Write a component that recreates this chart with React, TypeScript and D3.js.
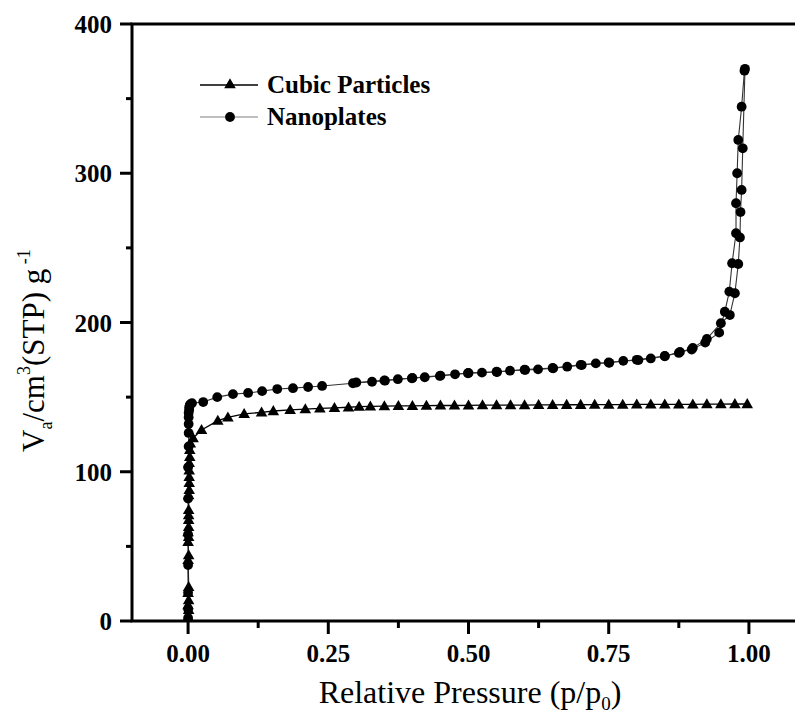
import React from "react";
import * as d3 from "d3";

// Cubic Particles (triangles)
const cubicP = [
  0.000, 0.000, 0.001, 0.000, 0.001, 0.000, 0.001, 0.000, 0.001, 0.000, 0.001, 0.000, 0.001,
  0.001, 0.001, 0.001, 0.001, 0.002, 0.002, 0.002, 0.002, 0.002, 0.003, 0.003, 0.004, 0.009,
  0.024, 0.053, 0.071, 0.100, 0.131, 0.152, 0.182, 0.209, 0.235, 0.261, 0.286, 0.305,
  0.325, 0.350, 0.375, 0.400, 0.425, 0.450, 0.475, 0.500, 0.525, 0.550, 0.575, 0.600, 0.625,
  0.650, 0.675, 0.700, 0.725, 0.750, 0.775, 0.800, 0.825, 0.850, 0.875, 0.900, 0.925, 0.950,
  0.975, 0.997,
];
const cubicV = [
  0, 2.7, 7.4, 10.7, 14, 18.8, 22.8, 41, 44.2, 53, 56.3, 59.6, 63,
  67.7, 71, 74.4, 84.4, 87.8, 92.5, 96.5, 101, 106, 110, 114.6, 119, 122.6,
  128, 134.2, 136.5, 138.8, 139.8, 140.7, 141.4, 142, 142.5, 142.8, 143.2, 143.6,
  143.8, 144.0, 144.1, 144.2, 144.3, 144.4, 144.4, 144.5, 144.6, 144.6, 144.7, 144.7, 144.8,
  144.8, 144.9, 144.9, 145.0, 145.0, 145.0, 145.1, 145.1, 145.1, 145.2, 145.2, 145.3, 145.3,
  145.4, 145.4,
];

// Nanoplates (circles) - adsorption branch
const nanoAdsP = [
  0.000, 0.000, 0.000, 0.000, 0.000, 0.000, 0.000, 0.001, 0.001, 0.001, 0.001, 0.001, 0.002,
  0.002, 0.003, 0.004, 0.007, 0.027, 0.052, 0.080, 0.107, 0.132, 0.159, 0.187, 0.214, 0.239,
  0.294, 0.328, 0.351, 0.374, 0.399, 0.422, 0.449, 0.476, 0.499, 0.524, 0.551, 0.574, 0.601,
  0.624, 0.651, 0.676, 0.702, 0.727, 0.751, 0.776, 0.803, 0.825, 0.850, 0.877, 0.898, 0.922,
  0.947, 0.957, 0.965, 0.970, 0.977, 0.977, 0.979, 0.981, 0.987, 0.992,
];
const nanoAdsV = [
  2, 8, 19, 37.5, 58, 82, 103, 117, 126, 132, 136.5, 139.5, 141.5,
  143.2, 144.5, 145.3, 146, 146.7, 150, 152, 152.8, 154, 155.4, 156, 156.8, 157.5,
  159.3, 160.3, 161, 162, 162.6, 163.3, 164.2, 165.3, 166, 166.4, 166.8, 167.7, 168.2,
  168.6, 169.3, 170.4, 171.5, 172.6, 173, 174.3, 174.8, 175.9, 177.4, 180.3, 181.9, 186.5,
  193.2, 207.2, 220.7, 239.7, 259.8, 279.9, 300, 322.3, 344.6, 368.7,
];

// Nanoplates (circles) - desorption branch
const nanoDesP = [
  0.993, 0.989, 0.987, 0.985, 0.984, 0.981, 0.975, 0.966, 0.950, 0.925, 0.900, 0.875, 0.850,
  0.800, 0.750, 0.700, 0.650, 0.600, 0.550, 0.500, 0.450, 0.400, 0.350, 0.300,
];
const nanoDesV = [
  370, 316.7, 288.8, 274, 257, 239.2, 219.6, 205, 199.5, 189, 183, 179.6, 177.6,
  175, 173.2, 171.6, 169.5, 168.4, 167, 166.2, 164.4, 162.8, 161.2, 159.8,
];

const xMajorTicks = [0, 0.25, 0.5, 0.75, 1.0];
const xMinorTicks = [0.125, 0.375, 0.625, 0.875];
const yMajorTicks = [0, 100, 200, 300, 400];
const yMinorTicks = [50, 150, 250, 350];

const legendLabels = ["Cubic Particles", "Nanoplates"];

const W = 795;
const H = 724;
const LEFT = 132;
const RIGHT = 805;
const TOP = 24;
const BOTTOM = 621;

const SERIF = "Liberation Serif, Times New Roman, serif";

export default function App() {
  const x = d3.scaleLinear().domain([-0.1, 1.1]).range([LEFT, RIGHT]);
  const y = d3.scaleLinear().domain([0, 400]).range([BOTTOM, TOP]);

  const cubic = cubicP.map((p, i) => [p, cubicV[i]] as [number, number]);
  const nanoAds = nanoAdsP.map((p, i) => [p, nanoAdsV[i]] as [number, number]);
  const nanoDes = nanoDesP.map((p, i) => [p, nanoDesV[i]] as [number, number]);

  const line = d3
    .line<[number, number]>()
    .x((d) => x(d[0]))
    .y((d) => y(d[1]));

  const tri = d3.symbol().type(d3.symbolTriangle).size(58)() as string;

  const txt = { fontFamily: SERIF } as React.CSSProperties;

  return (
    <svg
      width={W}
      height={H}
      style={{ position: "absolute", left: 0, top: 0, background: "#fff" }}
    >
      <rect x={0} y={0} width={W} height={H} fill="#fff" />
      <defs>
        <clipPath id="plotclip">
          <rect x={LEFT} y={TOP} width={RIGHT - LEFT} height={BOTTOM - TOP} />
        </clipPath>
      </defs>

      {/* data */}
      <g clipPath="url(#plotclip)">
        <path d={line(cubic) || ""} fill="none" stroke="#000" strokeWidth={1.3} />
        <path d={line(nanoAds) || ""} fill="none" stroke="#333" strokeWidth={1.1} />
        <path d={line(nanoDes) || ""} fill="none" stroke="#333" strokeWidth={1.1} />
        {cubic.map((d, i) => (
          <path key={"t" + i} d={tri} transform={`translate(${x(d[0])},${y(d[1]) + 0.8})`} fill="#000" />
        ))}
        {nanoAds.map((d, i) => (
          <circle key={"a" + i} cx={x(d[0])} cy={y(d[1])} r={4.9} fill="#000" />
        ))}
        {nanoDes.map((d, i) => (
          <circle key={"d" + i} cx={x(d[0])} cy={y(d[1])} r={4.9} fill="#000" />
        ))}
      </g>

      {/* frame */}
      <rect
        x={LEFT}
        y={TOP}
        width={RIGHT - LEFT}
        height={BOTTOM - TOP}
        fill="none"
        stroke="#000"
        strokeWidth={3}
      />

      {/* x ticks */}
      {xMajorTicks.map((t) => (
        <g key={"xm" + t}>
          <line x1={x(t)} x2={x(t)} y1={BOTTOM} y2={BOTTOM + 13} stroke="#000" strokeWidth={3} />
          <text
            x={x(t)}
            y={662}
            textAnchor="middle"
            fontSize={25}
            fontWeight="bold"
            style={txt}
          >
            {d3.format(".2f")(t)}
          </text>
        </g>
      ))}
      {xMinorTicks.map((t) => (
        <line key={"xn" + t} x1={x(t)} x2={x(t)} y1={BOTTOM} y2={BOTTOM + 7} stroke="#000" strokeWidth={3} />
      ))}

      {/* y ticks */}
      {yMajorTicks.map((t) => (
        <g key={"ym" + t}>
          <line x1={LEFT - 12} x2={LEFT} y1={y(t)} y2={y(t)} stroke="#000" strokeWidth={3} />
          <text
            x={112}
            y={y(t) + 9}
            textAnchor="end"
            fontSize={25}
            fontWeight="bold"
            style={txt}
          >
            {t}
          </text>
        </g>
      ))}
      {yMinorTicks.map((t) => (
        <line key={"yn" + t} x1={LEFT - 6} x2={LEFT} y1={y(t)} y2={y(t)} stroke="#000" strokeWidth={3} />
      ))}

      {/* x title */}
      <text x={470} y={703} textAnchor="middle" fontSize={32} style={txt}>
        Relative Pressure (p/p
        <tspan fontSize={19} dy={7}>0</tspan>
        <tspan dy={-7}>)</tspan>
      </text>

      {/* y title */}
      <text transform="translate(44,452) rotate(-90)" textAnchor="start" fontSize={31} style={txt}>
        V
        <tspan fontSize={18} dy={8}>a</tspan>
        <tspan dy={-8}>/cm</tspan>
        <tspan fontSize={18} dy={-14}>3</tspan>
        <tspan dy={14}>(STP) g</tspan>
        <tspan fontSize={18} dy={-14}> -1</tspan>
      </text>

      {/* legend */}
      <g>
        <line x1={200} x2={258} y1={85} y2={85} stroke="#000" strokeWidth={1.5} />
        <path d={tri} transform="translate(230,85)" fill="#000" />
        <text x={267} y={93} fontSize={25} fontWeight="bold" style={txt}>
          {legendLabels[0]}
        </text>
        <line x1={200} x2={258} y1={117} y2={117} stroke="#aaa" strokeWidth={1.5} />
        <circle cx={230} cy={117} r={4.9} fill="#000" />
        <text x={267} y={125} fontSize={25} fontWeight="bold" style={txt}>
          {legendLabels[1]}
        </text>
      </g>
    </svg>
  );
}
